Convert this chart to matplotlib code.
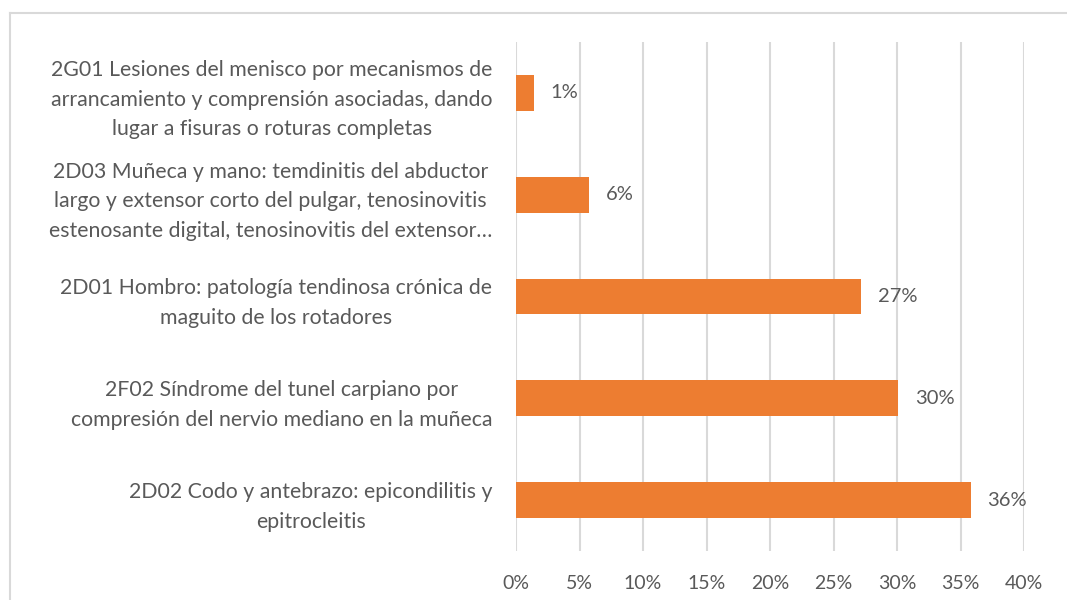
import matplotlib
matplotlib.use("Agg")
import matplotlib.pyplot as plt
from matplotlib.ticker import MultipleLocator, FuncFormatter
from matplotlib.lines import Line2D

plt.rcParams['font.family'] = ['Lato', 'DejaVu Sans']

categories = [
    "2D02 Codo y antebrazo: epicondilitis y\nepitrocleitis",
    "2F02 Síndrome del tunel carpiano por\ncompresión del nervio mediano en la muñeca",
    "2D01 Hombro: patología tendinosa crónica de\nmaguito de los rotadores",
    "2D03 Muñeca y mano: temdinitis del abductor\nlargo y extensor corto del pulgar, tenosinovitis\nestenosante digital, tenosinovitis del extensor…",
    "2G01 Lesiones del menisco por mecanismos de\narrancamiento y comprensión asociadas, dando\nlugar a fisuras o roturas completas",
]
values = [0.358, 0.301, 0.272, 0.0575, 0.0142]
value_labels = ["36%", "30%", "27%", "6%", "1%"]

text_color = "#595959"
grid_color = "#D9D9D9"
bar_color = "#ED7D31"

fig = plt.figure(figsize=(10.67, 6), dpi=100)
ax = fig.add_axes([0.4836, 0.0817, 0.4761, 0.8483])

ypos = list(range(len(categories)))
bars = ax.barh(ypos, values, height=0.35, color=bar_color, zorder=3)

for bar, lab in zip(bars, value_labels):
    ax.annotate(lab, xy=(bar.get_width(), bar.get_y() + bar.get_height() / 2),
                xytext=(12, 0), textcoords="offset points",
                ha='left', va='center', fontsize=14.5, color=text_color)

ax.set_xlim(0, 0.40)
ax.set_ylim(-0.5, len(categories) - 0.5)
ax.xaxis.set_major_locator(MultipleLocator(0.05))
ax.xaxis.set_major_formatter(FuncFormatter(lambda v, p: f"{round(v * 100)}%"))
ax.set_yticks(ypos)
ax.set_yticklabels(categories, multialignment='center', linespacing=1.6, fontsize=15.3)

ax.grid(axis='x', color=grid_color, linewidth=1.5, zorder=0)
for s in ax.spines.values():
    s.set_visible(False)
ax.tick_params(axis='both', length=0, colors=text_color)
ax.tick_params(axis='x', labelsize=14, pad=17)
ax.tick_params(axis='y', pad=17)

# chart frame
fig.add_artist(Line2D([10 / 1067, 10 / 1067], [1 - 13 / 600, 0], color=grid_color,
                      linewidth=1.5, transform=fig.transFigure))
fig.add_artist(Line2D([10 / 1067, 1], [1 - 13 / 600, 1 - 13 / 600], color=grid_color,
                      linewidth=1.5, transform=fig.transFigure))

fig.savefig("out.png", dpi=100, facecolor="white")
